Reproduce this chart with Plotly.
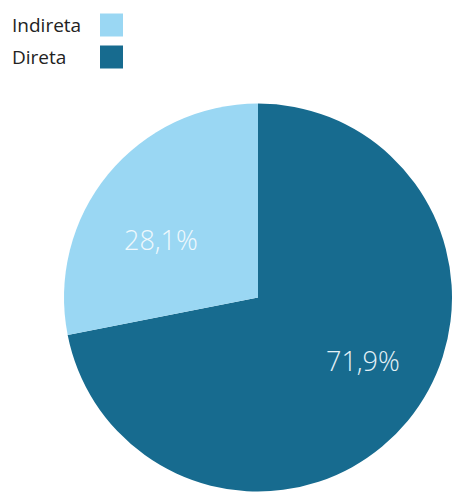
import plotly.graph_objects as go

W, H = 452, 494

# Share of each type (%)
labels = ["Indireta", "Direta"]
values = [28.1, 71.9]
colors = ["#9ad7f3", "#176b8f"]
label_colors = ["#f0f9fd", "#e4f2f8"]


def px(x):
    return x / W


def py(y):
    return 1 - y / H


# Direta starts at 12 o'clock and runs clockwise; Indireta closes the circle
fig = go.Figure(
    go.Pie(
        labels=labels[::-1],
        values=values[::-1],
        marker=dict(colors=colors[::-1], line=dict(width=0)),
        sort=False,
        direction="clockwise",
        rotation=0,
        textinfo="none",
        hoverinfo="label+percent",
        domain=dict(x=[px(64), px(452)], y=[py(492), py(103)]),
        showlegend=False,
    )
)

# Percentage labels written from the values, with a decimal comma
label_pos = [(161, 240), (363, 360)]
for v, (x, y), c in zip(values, label_pos, label_colors):
    fig.add_annotation(
        x=px(x), y=py(y), xref="paper", yref="paper",
        text=f"{v:.1f}%".replace(".", ","),
        showarrow=False,
        font=dict(family="Open Sans", size=27, color=c, weight=300),
        xanchor="center", yanchor="middle",
    )

# Legend: name on the left, colour swatch on the right
rows = [25, 57]
for name, col, yc in zip(labels, colors, rows):
    fig.add_annotation(
        x=px(10), y=py(yc), xref="paper", yref="paper",
        text=name, showarrow=False,
        font=dict(family="Open Sans", size=19, color="#222222"),
        xanchor="left", yanchor="middle",
    )
    fig.add_shape(
        type="rect", xref="paper", yref="paper",
        x0=px(100), x1=px(123), y0=py(yc + 11.5), y1=py(yc - 11.5),
        fillcolor=col, line=dict(width=0),
    )

fig.update_layout(
    width=W, height=H,
    margin=dict(l=0, r=0, t=0, b=0),
    paper_bgcolor="white",
    plot_bgcolor="white",
)

fig.write_html("out.html")
